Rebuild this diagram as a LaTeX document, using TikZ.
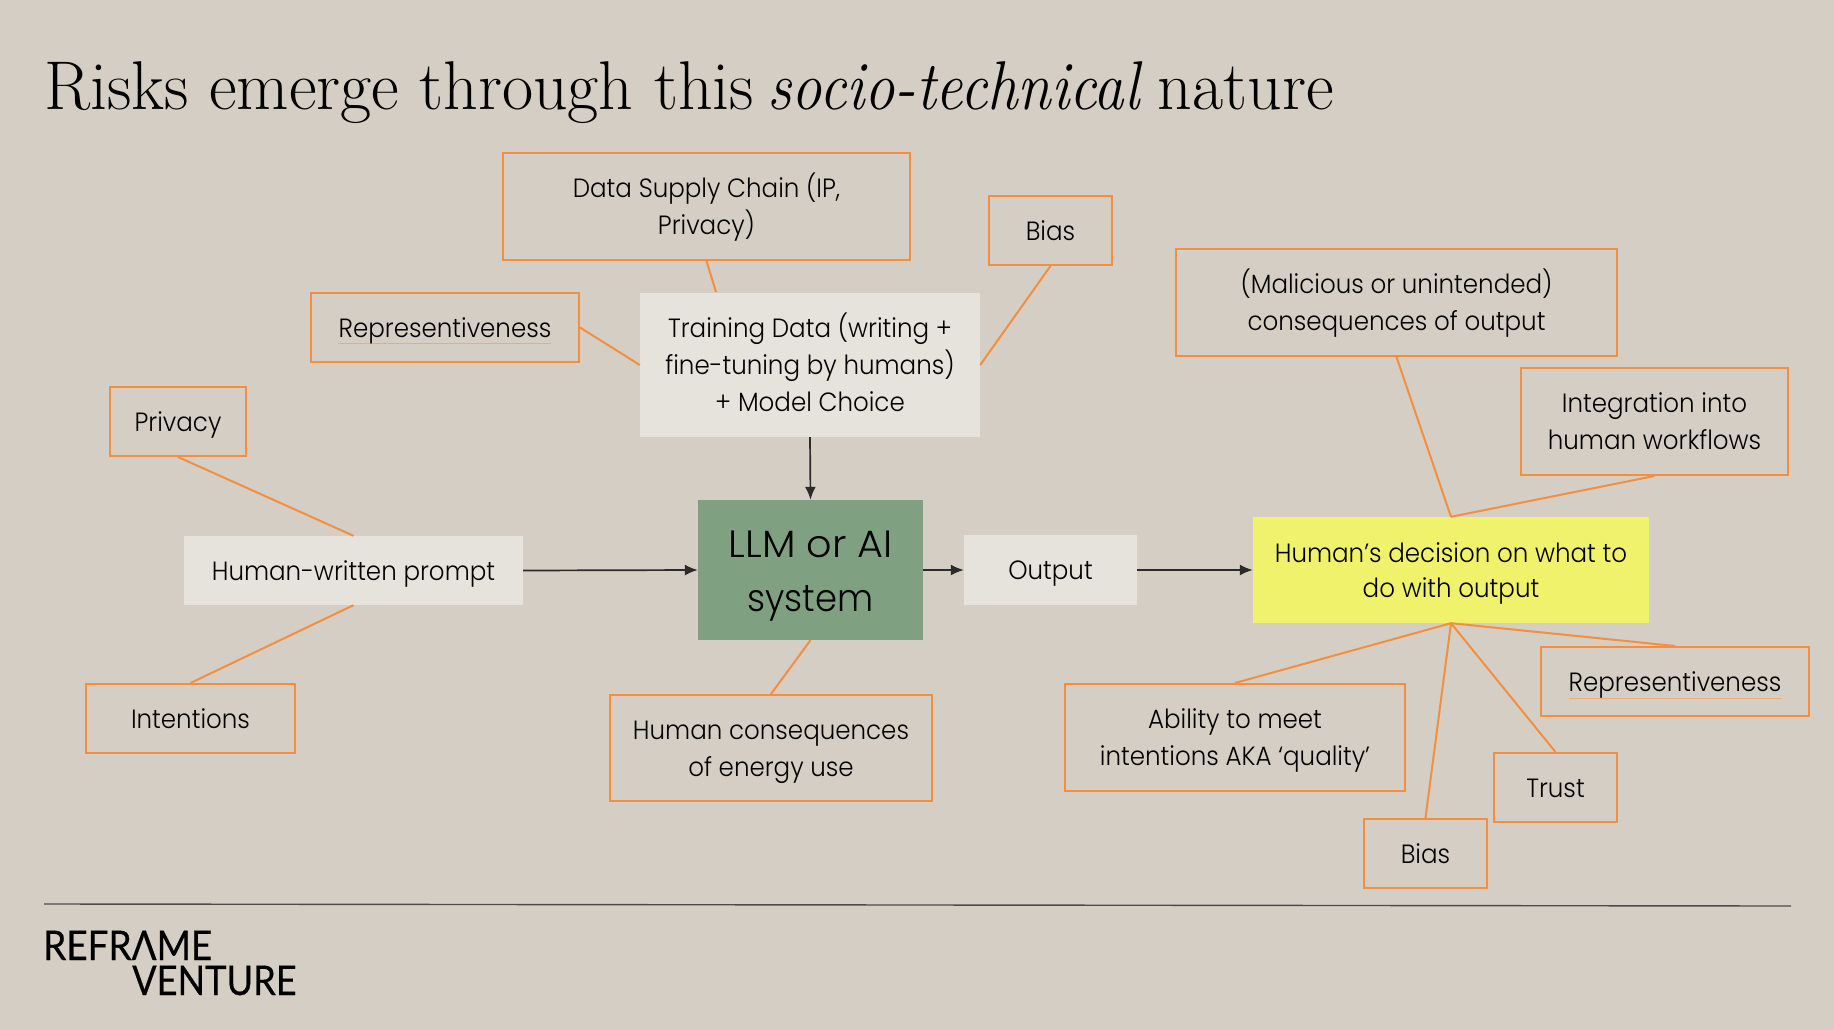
\documentclass[tikz,border=0pt]{standalone}
\usepackage{fontspec}
\usetikzlibrary{arrows.meta}
\newfontfamily\bodyfont[FakeStretch=0.93]{Poppins Light}
\newfontfamily\logofont[FakeStretch=0.9,FakeBold=0.4]{Lato}
\newfontfamily\titlefont[FakeStretch=0.982]{Latin Modern Roman}
\newfontfamily\titleit[FakeStretch=0.88]{Latin Modern Roman}
\definecolor{bgc}{HTML}{D5CEC4}
\definecolor{lightc}{HTML}{E6E2DC}
\definecolor{greenc}{HTML}{7FA181}
\definecolor{yellowc}{HTML}{F0F26C}
\definecolor{orangec}{HTML}{F38F3F}
\definecolor{darkc}{HTML}{2B2B2B}
\tikzset{
  x=1pt,y=-1pt,
  base/.style={inner sep=0pt,align=center,text=black,font=\fontsize{26.4}{37}\selectfont\bodyfont},
  riskbox/.style={base,draw=orangec,line width=2pt},
  stagebox/.style={base,fill=lightc},
  risklink/.style={draw=orangec,line width=2pt},
  flow/.style={draw=darkc,line width=1.7pt,-{Latex[length=13pt,width=11pt]}},
}
\newcommand{\topstrut}{\rule{0pt}{1.10em}}
\newcommand{\botstrut}{\rule[-.36em]{0pt}{.36em}}
\newcommand{\boxat}[7]{\node[#1,minimum width=#5pt-#3pt,minimum height=#6pt-#4pt] (#2) at ({(#3+#5)/2},{(#4+#6)/2}) {\topstrut #7\botstrut};}
\begin{document}
\begin{tikzpicture}
\useasboundingbox (0,0) rectangle (1834,1030);
\fill[bgc] (0,0) rectangle (1834,1030);
\node[anchor=base west,inner sep=0pt,text=black,font=\fontsize{69}{69}\selectfont\titlefont] (title) at (44,110) {Risks emerge through this\hspace{-7pt} {\titleit\itshape socio-technical}\hspace{-2pt} nature};
\boxat{stagebox}{train}{640}{293}{980}{437}{Training Data (writing +\\fine-tuning by humans)\\+ Model Choice}
\boxat{stagebox}{prompt}{184}{536}{523}{605}{Human-written prompt}
\boxat{stagebox}{output}{964}{535}{1137}{605}{Output}
\boxat{base,fill=greenc,font=\fontsize{38}{54}\selectfont\bodyfont}{llm}{698}{500}{923}{640}{\scalebox{1.125}[1]{LLM or AI}\\system}
\boxat{base,fill=yellowc,font=\fontsize{26.4}{35.5}\selectfont\bodyfont}{decision}{1253}{517}{1649}{623}{Human’s decision on what to\\do with output}
\boxat{riskbox}{supply}{503}{153}{910}{260}{Data Supply Chain (IP,\\Privacy)}
\boxat{riskbox}{biasa}{989}{196}{1112}{265}{Bias}
\boxat{riskbox}{repa}{311}{293}{579}{362}{Representiveness}
\boxat{riskbox}{privacy}{110}{387}{246}{456}{Privacy}
\boxat{riskbox}{intent}{86}{684}{295}{753}{Intentions}
\boxat{riskbox}{energy}{610}{695}{932}{801}{Human consequences\\of energy use}
\boxat{riskbox}{malice}{1176}{249}{1617}{356}{(Malicious or unintended)\\consequences of output}
\boxat{riskbox}{workflow}{1521}{368}{1788}{475}{Integration into\\human workflows}
\boxat{riskbox}{ability}{1065}{684}{1405}{791}{Ability to meet\\intentions AKA ‘quality’}
\boxat{riskbox}{repb}{1541}{647}{1809}{716}{Representiveness}
\boxat{riskbox}{trust}{1494}{753}{1617}{822}{Trust}
\boxat{riskbox}{biasb}{1364}{819}{1487}{888}{Bias}
\coordinate (trainedge) at (716,292);
\coordinate (rulea) at (44,904);
\coordinate (ruleb) at (1791,906);
\path[risklink] (supply.south) -- (trainedge);
\path[risklink] (repa.east) -- (train.west);
\path[risklink] (biasa.south) -- (train.east);
\path[risklink] (privacy.south) -- (prompt.north);
\path[risklink] (intent.north) -- (prompt.south);
\path[risklink] (llm.south) -- (energy.north);
\path[risklink] (malice.south) -- (decision.north);
\path[risklink] (workflow.south) -- (decision.north);
\path[risklink] (decision.south) -- (ability.north);
\path[risklink] (decision.south) -- (biasb.north);
\path[risklink] (decision.south) -- (trust.north);
\path[risklink] (decision.south) -- (repb.north);
\path[flow] (train.south) -- (llm.north);
\path[flow] (prompt.east) -- (llm.west);
\path[flow] (llm.east) -- (output.west);
\path[flow] (output.east) -- (decision.west);
\draw[darkc!85,line width=1.4pt] (rulea) -- (ruleb);
\draw[orangec,opacity=.5,line width=.9pt] (338,343) -- (551,343);
\draw[orangec,opacity=.5,line width=.9pt] (1569,698) -- (1782,698);
\node[anchor=base west,inner sep=0pt,text=black,font=\fontsize{41}{41}\selectfont\logofont] (logoa) at (43,960) {REFRΛME};
\node[anchor=base west,inner sep=0pt,text=black,font=\fontsize{41}{41}\selectfont\logofont] (logob) at (132,995) {\scalebox{.98}[1]{VENTURE}};
\end{tikzpicture}
\end{document}
